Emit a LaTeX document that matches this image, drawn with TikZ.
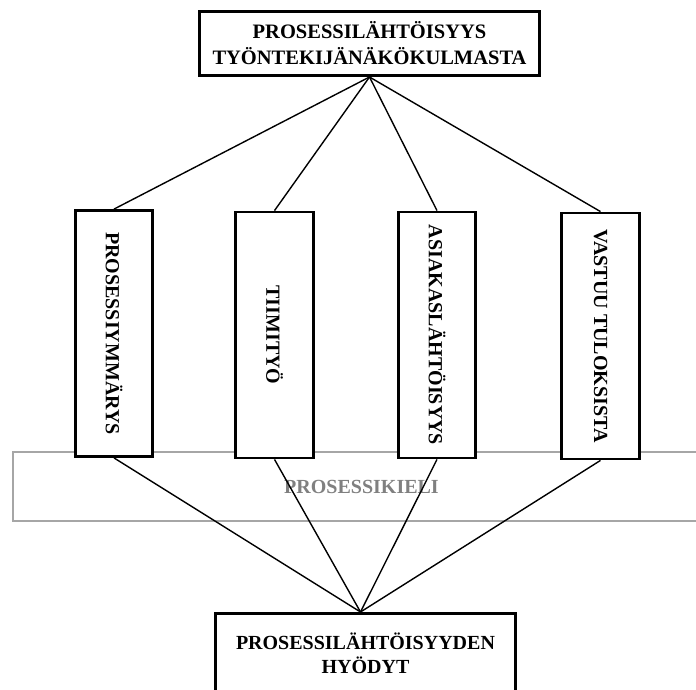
\documentclass[tikz,border=0pt]{standalone}
\usepackage{fontspec}
\setmainfont{Liberation Serif}
\usetikzlibrary{calc}
\definecolor{bandgray}{HTML}{A6A6A6}
\definecolor{bandtext}{HTML}{808080}
\begin{document}
\begin{tikzpicture}[x=1pt,y=-1pt,
  headbox/.style={draw=black,line width=3pt,fill=white,align=center,inner sep=0pt,
    font=\fontsize{20.5}{26}\selectfont\bfseries},
  footbox/.style={draw=black,line width=3pt,fill=white,align=center,inner sep=0pt,
    font=\fontsize{20}{24}\selectfont\bfseries},
  pillar/.style={draw=black,line width=2.8pt,fill=white,inner sep=0pt,rotate=-90,
    minimum width=246pt,minimum height=77.5pt,
    font=\fontsize{20}{24}\selectfont\bfseries},
  band/.style={draw=bandgray,line width=2pt,inner sep=0pt,text=bandtext,
    font=\fontsize{20}{24}\selectfont\bfseries},
  link/.style={draw=black,line width=1.4pt}]
\useasboundingbox (0,0) rectangle (696,690);

% language band behind the four themes
\node[band,minimum width=697pt,minimum height=69pt] (kieli) at (361.5,486.5) {PROSESSIKIELI};

% top and bottom boxes
\node[headbox,minimum width=340pt,minimum height=64pt] (top) at (369.5,43.5)
  {PROSESSILÄHTÖISYYS\\TYÖNTEKIJÄNÄKÖKULMASTA};
\node[footbox,minimum width=300pt,minimum height=80pt] (bot) at (365.5,653.5)
  {PROSESSILÄHTÖISYYDEN\\HYÖDYT};
\coordinate (apex) at ($(bot.north)+(-5,0)$);

% four vertical themes (rotated: west = page top, east = page bottom)
\node[pillar] (p1) at (114,333.5) {PROSESSIYMMÄRYS};
\node[pillar] (p2) at (274.5,335) {TIIMITYÖ};
\node[pillar] (p3) at (437,335) {ASIAKASLÄHTÖISYYS};
\node[pillar] (p4) at (600.5,336) {VASTUU TULOKSISTA};

% connectors
\foreach \p in {p1,p2,p3,p4}{
  \draw[link] (top.south) -- (\p.west);
  \draw[link] (\p.east) -- (apex);
}
\end{tikzpicture}
\end{document}
